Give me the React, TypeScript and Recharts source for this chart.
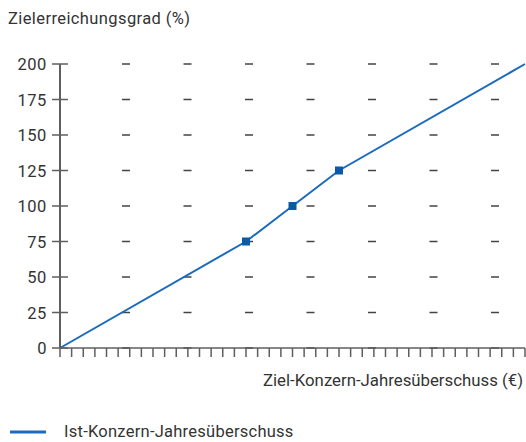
import React from 'react';
import { LineChart, Line, XAxis, YAxis, CartesianGrid, Legend } from 'recharts';

// Ziel-Konzern-Jahresüberschuss (x-Einheiten) und Zielerreichungsgrad (%)
const xValues = [0, 16, 20, 24, 40];
const yValues = [0, 75, 100, 125, 200];
const markedX = [16, 20, 24];

const yTicks = [0, 25, 50, 75, 100, 125, 150, 175, 200];
const xTicks = Array.from({ length: 41 }, (_, i) => i);

const yTitle = 'Zielerreichungsgrad (%)';
const xTitle = 'Ziel-Konzern-Jahresüberschuss (€)';
const seriesName = 'Ist-Konzern-Jahresüberschuss';

const data = xValues.map((x, i) => ({ x, value: yValues[i] }));

const FONT = 'Roboto, "Liberation Sans", sans-serif';
const TEXT = '#333333';
const AXIS = '#5f5f5f';
const BLUE = '#1a6bbd';
const MARK = '#0a5aa8';

const YTick = (props: any) => {
  const { x, y, payload } = props;
  return (
    <g>
      <line x1={x - 8} x2={x + 8} y1={y} y2={y} stroke={AXIS} strokeWidth={1.5} />
      <text
        x={x - 13}
        y={y}
        dy={6}
        textAnchor="end"
        fill={TEXT}
        fontSize={16.5}
        fontFamily={FONT}
        letterSpacing={0.6}
      >
        {payload.value}
      </text>
    </g>
  );
};

const EmptyTick = () => <g />;

const SquareDot = (props: any) => {
  const { cx, cy, payload, index } = props;
  if (!markedX.includes(payload.x)) return <g key={`d${index}`} />;
  return <rect key={`d${index}`} x={cx - 4} y={cy - 4} width={8} height={8} fill={MARK} />;
};

const LegendContent = () => (
  <div style={{ display: 'flex', alignItems: 'center', fontFamily: FONT, fontSize: 16.5, color: TEXT, letterSpacing: 0.25 }}>
    <svg width={54} height={10} style={{ marginLeft: 2 }}>
      <line x1={0} x2={36} y1={5} y2={5} stroke={BLUE} strokeWidth={3} />
    </svg>
    <span>{seriesName}</span>
  </div>
);

export default function App() {
  return (
    <>
      <style>{'html,body{margin:0;overflow:hidden}'}</style>
      <LineChart
        width={526}
        height={442}
        data={data}
        margin={{ top: 64, right: 1, left: 0, bottom: 45 }}
      >
        <CartesianGrid
          vertical={false}
          stroke="#444"
          strokeWidth={1.5}
          strokeDasharray="0 62 8 53.5 8 53.5 8 53.5 8 53.5 8 53.5 8 53.5 8 200"
        />
        <XAxis
          dataKey="x"
          type="number"
          domain={[0, 40]}
          ticks={xTicks}
          interval={0}
          tick={<EmptyTick />}
          tickSize={9}
          height={30}
          axisLine={{ stroke: AXIS, strokeWidth: 1.5 }}
          tickLine={{ stroke: AXIS, strokeWidth: 1.5 }}
          label={{
            content: (p: any) => {
              const vb = p.viewBox;
              return (
                <text
                  x={vb.x + vb.width - 2}
                  y={vb.y + 38}
                  textAnchor="end"
                  fill={TEXT}
                  fontSize={16.8}
                  fontFamily={FONT}
                >
                  {xTitle}
                </text>
              );
            },
          }}
        />
        <YAxis
          type="number"
          domain={[0, 200]}
          ticks={yTicks}
          interval={0}
          width={60}
          tickSize={0}
          tickMargin={0}
          tickLine={false}
          tick={<YTick />}
          axisLine={{ stroke: AXIS, strokeWidth: 2 }}
          label={{
            content: (p: any) => {
              const vb = p.viewBox;
              return (
                <text
                  x={8}
                  y={vb.y - 40}
                  textAnchor="start"
                  fill={TEXT}
                  fontSize={16.5}
                  fontFamily={FONT}
                  letterSpacing={0.4}
                >
                  {yTitle}
                </text>
              );
            },
          }}
        />
        <Legend
          content={<LegendContent />}
          wrapperStyle={{ position: 'absolute', left: 8, top: 422, width: 518 }}
        />
        <Line
          type="linear"
          dataKey="value"
          name={seriesName}
          stroke={BLUE}
          strokeWidth={2}
          dot={<SquareDot />}
          activeDot={false}
          isAnimationActive={false}
        />
      </LineChart>
    </>
  );
}
